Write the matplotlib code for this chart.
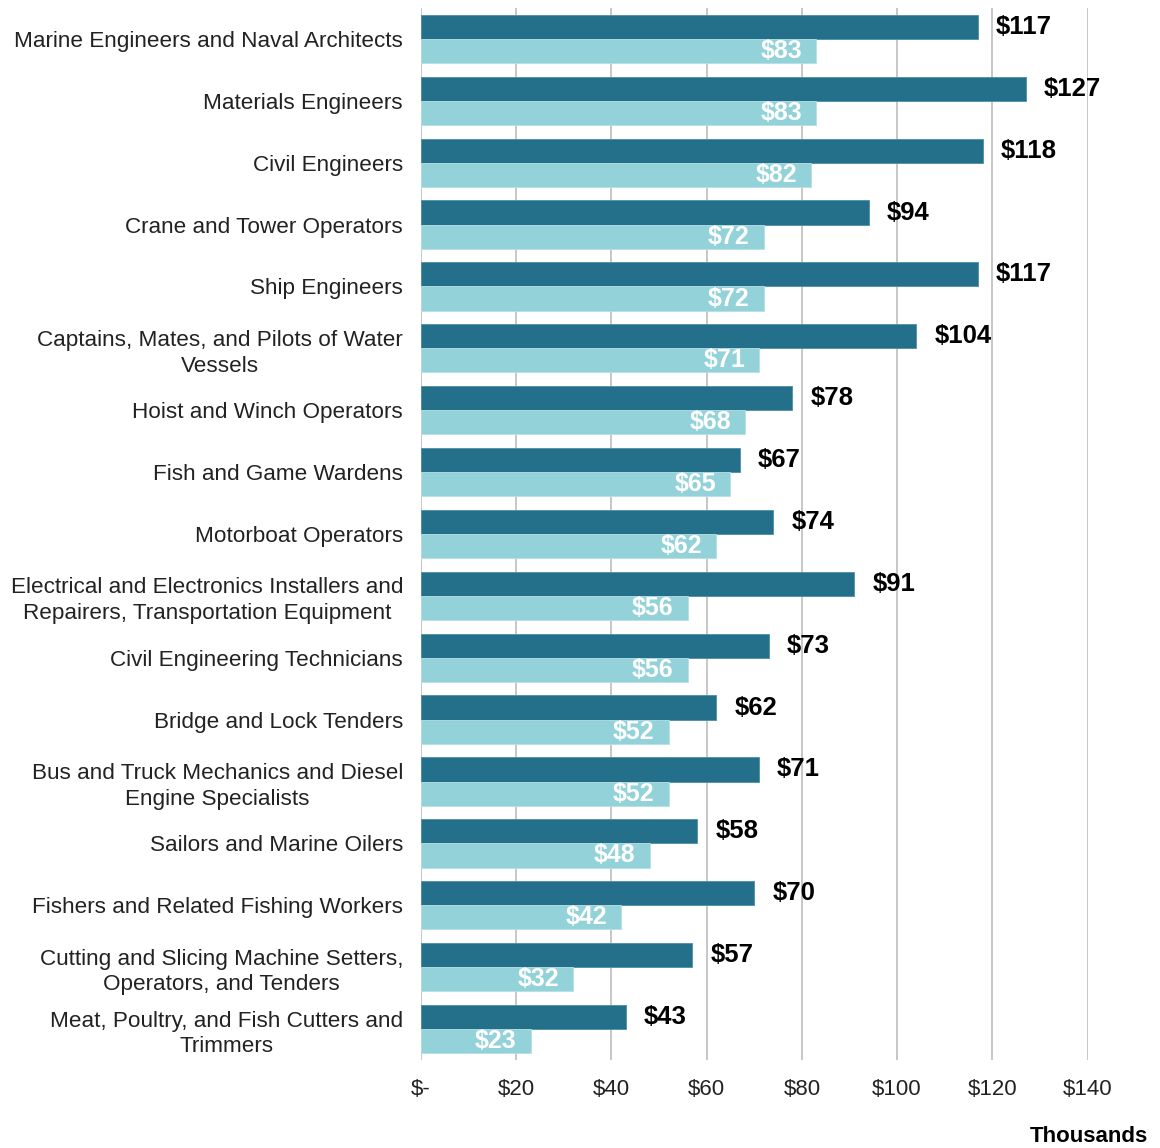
import numpy as np
import matplotlib.pyplot as plt

plt.rcParams['font.family'] = ['Liberation Sans', 'DejaVu Sans']

##################
## Data
##################
occupations = [
    "Marine Engineers and Naval Architects",
    "Materials Engineers",
    "Civil Engineers",
    "Crane and Tower Operators",
    "Ship Engineers",
    "Captains, Mates, and Pilots of Water\nVessels",
    "Hoist and Winch Operators",
    "Fish and Game Wardens",
    "Motorboat Operators",
    "Electrical and Electronics Installers and\nRepairers, Transportation Equipment",
    "Civil Engineering Technicians",
    "Bridge and Lock Tenders",
    "Bus and Truck Mechanics and Diesel\nEngine Specialists",
    "Sailors and Marine Oilers",
    "Fishers and Related Fishing Workers",
    "Cutting and Slicing Machine Setters,\nOperators, and Tenders",
    "Meat, Poultry, and Fish Cutters and\nTrimmers",
]
wage_dark = [117, 127, 118, 94, 117, 104, 78, 67, 74, 91, 73, 62, 71, 58, 70, 57, 43]
wage_light = [83, 83, 82, 72, 72, 71, 68, 65, 62, 56, 56, 52, 52, 48, 42, 32, 23]
xticks = [0, 20, 40, 60, 80, 100, 120, 140]
xtick_labels = ["$-", "$20", "$40", "$60", "$80", "$100", "$120", "$140"]

dark = '#246F89'
light = '#93D2D9'

##################
## Plot
##################
fig = plt.figure(figsize=(11.6, 11.48), dpi=100)
ax = fig.add_axes([0.363, 0.0767, 0.5745, 0.9163])

y = np.arange(len(occupations))
h = 0.39
ax.barh(y - h/2, wage_dark, height=h, color=dark, edgecolor='#4C8FA6', linewidth=0.6, zorder=3)
ax.barh(y + h/2, wage_light, height=h, color=light, edgecolor='#B5E0E5', linewidth=0.6, zorder=3)

for i in range(len(occupations)):
    ax.annotate('$' + str(wage_dark[i]), xy=(wage_dark[i], y[i] - h/2), xytext=(13, 0),
                textcoords='offset points', ha='left', va='center',
                fontsize=18.5, fontweight='bold', color='black')
    ax.annotate('$' + str(wage_light[i]), xy=(wage_light[i], y[i] + h/2), xytext=(-10, 0),
                textcoords='offset points', ha='right', va='center',
                fontsize=18, fontweight='bold', color='white', zorder=4)

ax.set_ylim(len(occupations) - 0.5, -0.5)
ax.set_xlim(0, 140)
ax.set_yticks(y)
ax.set_yticklabels(occupations, fontsize=16.2, color='#222222')
for lbl in ax.get_yticklabels():
    lbl.set_multialignment('center')
    lbl.set_linespacing(1.3)
ax.set_xticks(xticks)
ax.set_xticklabels(xtick_labels, fontsize=16, color='#222222')
ax.tick_params(axis='y', length=0, pad=13)
ax.tick_params(axis='x', length=0, pad=14)
ax.grid(axis='x', color='#BDBDBD', linewidth=1.2, zorder=0)
for s in ax.spines.values():
    s.set_visible(False)

fig.text(0.99, 0.001, 'Thousands', ha='right', va='bottom', fontsize=16, fontweight='bold')

plt.savefig('out.png', dpi=100)
